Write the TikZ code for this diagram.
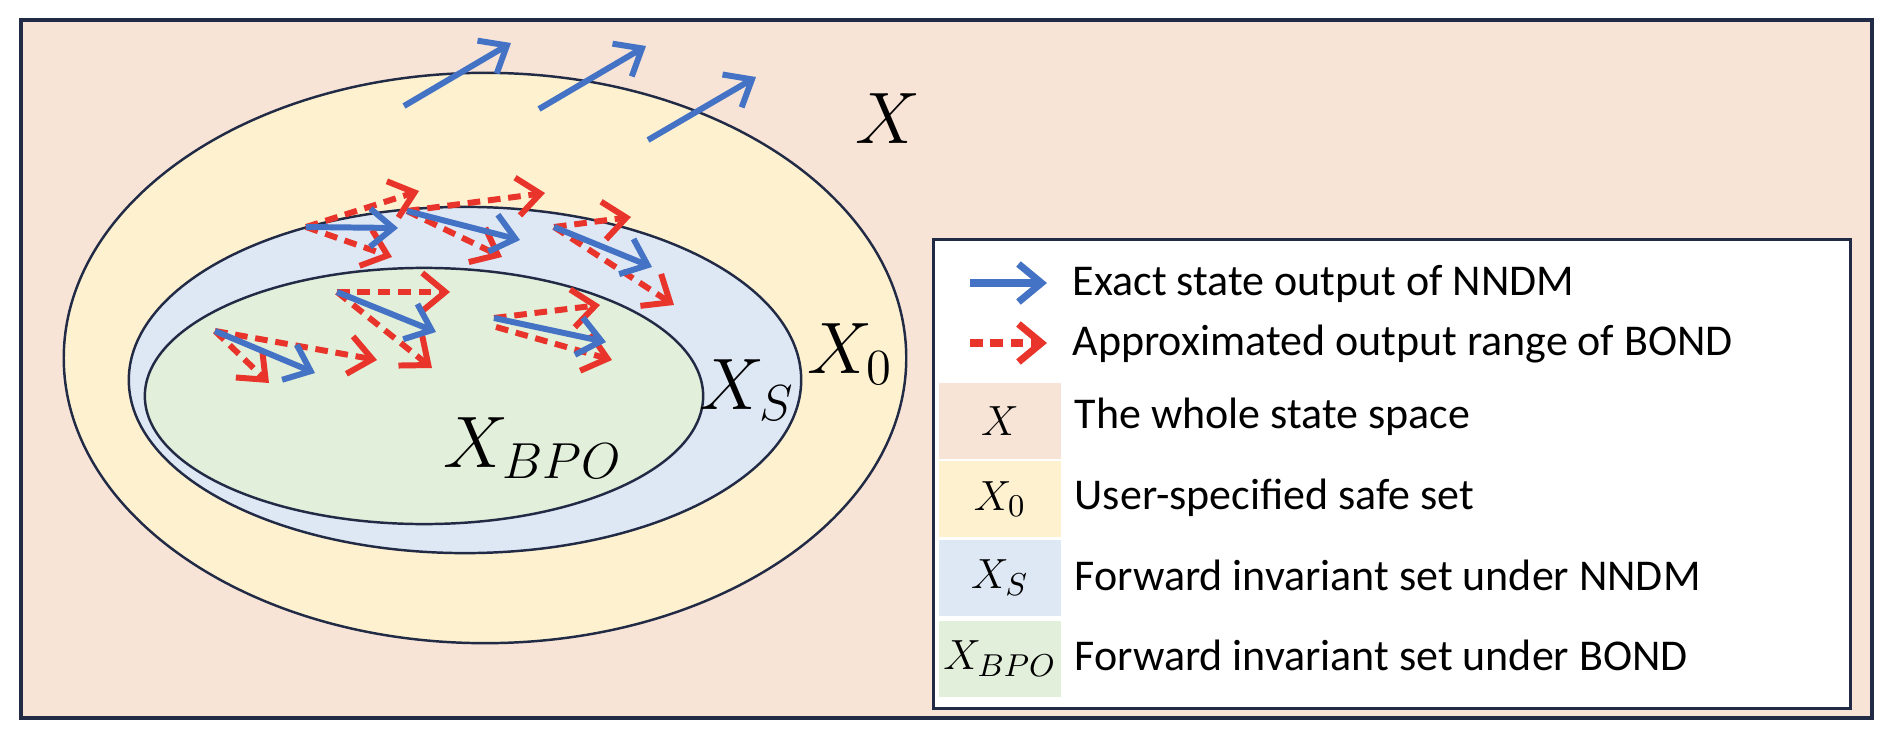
\documentclass[tikz,border=0pt]{standalone}
\usepackage{fontspec}
\setmainfont{Carlito}
\usetikzlibrary{arrows.meta, positioning}

\definecolor{spacebg}{HTML}{F8E4D7}
\definecolor{safebg}{HTML}{FDF1D0}
\definecolor{invbg}{HTML}{DEE8F5}
\definecolor{bpobg}{HTML}{E2EFDA}
\definecolor{arrblue}{HTML}{4472C4}
\definecolor{arrred}{HTML}{E8342A}
\definecolor{edge}{HTML}{222B45}

\begin{document}
\begin{tikzpicture}[
    x=0.01cm, y=-0.01cm,
    region/.style   = {draw=edge, line width=0.7pt},
    bluearr/.style  = {-{Straight Barb[length=2.3mm, width=3.8mm]},
                       line width=1.7pt, arrblue},
    redarr/.style   = {-{Straight Barb[length=2.3mm, width=3.8mm]},
                       line width=1.7pt, arrred, dash pattern=on 3.6pt off 2.2pt},
    setlabel/.style = {font=\fontsize{22}{26}\selectfont, inner sep=0pt},
    cell/.style     = {minimum width=1.22cm, minimum height=0.76cm, inner sep=0pt,
                       font=\fontsize{12.5}{14}\selectfont},
    legtext/.style  = {anchor=base west, inner sep=0pt,
                       font=\fontsize{12.5}{14}\selectfont},
]

\useasboundingbox (0,0) rectangle (1892,740);

%% ---- Whole state space ----
\draw[edge, line width=1.2pt, fill=spacebg] (21,20) rectangle (1872,718);

%% ---- Nested sets ----
\draw[region, fill=safebg] (485,358) ellipse [x radius=4.21cm, y radius=2.85cm];
\draw[region, fill=invbg]  (465,380) ellipse [x radius=3.36cm, y radius=1.73cm];
\draw[region, fill=bpobg]  (424,396) ellipse [x radius=2.79cm, y radius=1.28cm];

\node[setlabel] (lx)    at (888,119) {$X$};
\node[setlabel] (lx0)   at (850,354) {$X_0$};
\node[setlabel] (lxs)   at (747,390) {$X_S$};
\node[setlabel] (lxbpo) at (533,448) {$X_{BPO}$};

%% ---- Trajectories leaving the safe set ----
\coordinate (o1) at (404,106);
\coordinate (o2) at (539,109);
\coordinate (o3) at (648,140);
\draw[bluearr] (o1) -- ++(107,-63);
\draw[bluearr] (o2) -- ++(107,-63);
\draw[bluearr] (o3) -- ++(108,-63);

%% ---- Trajectories inside X_S ----
\coordinate (ga) at (306,227);
\draw[redarr]  (ga) -- ++(113,-36);
\draw[redarr]  (ga) -- ++(86,30);
\draw[bluearr] (ga) -- ++(92,1);

\coordinate (gb) at (407,211);
\draw[redarr]  (gb) -- ++(138,-18);
\draw[redarr]  (gb) -- ++(95,46);
\draw[bluearr] (gb) -- ++(113,29);

\coordinate (gc) at (554,227);
\draw[redarr]  (gc) -- ++(77,-10);
\draw[redarr]  (gc) -- ++(120,78);
\draw[bluearr] (gc) -- ++(98,40);

%% ---- Trajectories inside X_BPO ----
\coordinate (gd) at (337,292);
\draw[redarr]  (gd) -- ++(113,0);
\draw[redarr]  (gd) -- ++(95,76);
\draw[bluearr] (gd) -- ++(99,40);

\coordinate (ge) at (215,331);
\draw[redarr]  (ge) -- ++(162,29);
\draw[redarr]  (ge) -- ++(54,52);
\draw[bluearr] (ge) -- ++(100,42);

\coordinate (gf) at (494,318);
\draw[redarr]  (gf) -- ++(106,-13);
\draw[redarr]  (gf) ++(2,9) -- ++(116,33);
\draw[bluearr] (gf) -- ++(112,24);

%% ---- Legend ----
\node[draw=edge, line width=0.9pt, fill=white, minimum width=9.16cm,
      minimum height=4.68cm, inner sep=0pt] (legend) at (1392,474) {};

\coordinate (kb0) at (970,283);
\coordinate (kb1) at (1047,283);
\draw[bluearr, line width=2pt] (kb0) -- (kb1);
\node[legtext] (tb) at (1072,295) {Exact state output of NNDM};

\coordinate (kr0) at (970,343);
\coordinate (kr1) at (1047,343);
\draw[redarr, line width=2pt] (kr0) -- (kr1);
\node[legtext] (tr) at (1072,355) {Approximated output range of BOND};

\node[cell, fill=spacebg] (kx)    at (1000,421) {$X$};
\node[cell, fill=safebg]  (kx0)   at (1000,499) {$X_0$};
\node[cell, fill=invbg]   (kxs)   at (1000,578) {$X_S$};
\node[cell, fill=bpobg]   (kxbpo) at (1000,659) {$X_{BPO}$};

\node[legtext] (tx)    at (1074,428) {The whole state space};
\node[legtext] (tx0)   at (1074,509) {User-specified safe set};
\node[legtext] (txs)   at (1074,590) {Forward invariant set under NNDM};
\node[legtext] (txbpo) at (1074,670) {Forward invariant set under BOND};

\end{tikzpicture}
\end{document}
